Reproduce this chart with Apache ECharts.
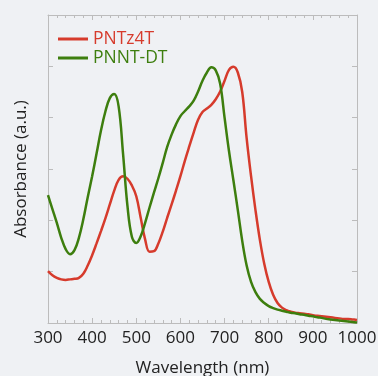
<!DOCTYPE html>
<html><head><meta charset="utf-8">
<script src="https://cdn.jsdelivr.net/npm/echarts@6/dist/echarts.min.js"></script>
<style>html,body{margin:0;padding:0;background:#eff1f4;}#c{width:378px;height:376px;}</style>
</head><body><div id="c"></div>
<script>
var seriesNames = ['PNTz4T', 'PNNT-DT'];
var xTicks = [300, 400, 500, 600, 700, 800, 900, 1000];
var wavelength = [300,310,320,330,340,350,360,370,380,390,400,410,420,430,440,450,460,470,480,490,500,510,520,530,540,550,560,570,580,590,600,610,620,630,640,650,660,670,680,690,700,710,720,730,740,750,760,770,780,790,800,810,820,830,840,850,860,870,880,890,900,910,920,930,940,950,960,970,980,990,1000];
var redY = [1.01,0.93,0.88,0.85,0.84,0.85,0.86,0.88,0.96,1.12,1.32,1.55,1.79,2.04,2.31,2.58,2.79,2.86,2.81,2.68,2.47,2.05,1.63,1.39,1.40,1.55,1.78,2.05,2.31,2.58,2.86,3.16,3.44,3.71,3.96,4.11,4.18,4.25,4.36,4.51,4.72,4.93,4.99,4.88,4.50,3.60,2.86,2.20,1.62,1.15,0.80,0.55,0.39,0.30,0.25,0.22,0.20,0.19,0.18,0.17,0.15,0.14,0.13,0.12,0.11,0.10,0.09,0.08,0.08,0.07,0.06];
var greenY = [2.49,2.22,1.95,1.66,1.44,1.34,1.42,1.66,2.02,2.45,2.86,3.30,3.75,4.12,4.38,4.46,4.22,3.30,2.28,1.68,1.56,1.69,1.95,2.25,2.54,2.82,3.12,3.43,3.67,3.87,4.03,4.13,4.22,4.33,4.51,4.72,4.88,4.98,4.92,4.66,4.00,3.35,2.78,2.20,1.60,1.12,0.80,0.60,0.47,0.39,0.33,0.29,0.26,0.24,0.22,0.20,0.19,0.17,0.16,0.14,0.13,0.11,0.10,0.08,0.07,0.06,0.05,0.04,0.03,0.02,0.01];
var colors = ['#d63b2c', '#3d7e0e'];

function pairs(xs, ys){ return xs.map(function(x,i){ return [x, ys[i]]; }); }

var chart = echarts.init(document.getElementById('c'));
var font = '"Open Sans", "Noto Sans", sans-serif';
var axisLineStyle = {color:'#bcbcbc', width:1};
chart.setOption({
  backgroundColor:'#eff1f4',
  animation:false,
  grid:{left:48, right:21, top:15, bottom:53, outerBoundsMode:'none', containLabel:false},
  legend:{
    left:53, top:25, orient:'vertical', itemGap:1,
    icon:'rect', itemWidth:30, itemHeight:3,
    data:[
      {name:seriesNames[0], textStyle:{color:colors[0]}},
      {name:seriesNames[1], textStyle:{color:colors[1]}}
    ],
    textStyle:{fontFamily:font, fontSize:17.5}
  },
  xAxis:[{
    type:'value', min:300, max:1000, interval:100,
    name:'Wavelength (nm)', nameLocation:'middle', nameGap:37,
    nameTextStyle:{fontFamily:font, fontSize:17, color:'#222'},
    axisLine:{show:true, onZero:false, lineStyle:axisLineStyle},
    axisTick:{show:true, inside:true, length:5, lineStyle:axisLineStyle},
    minorTick:{show:true, splitNumber:5, length:3, lineStyle:axisLineStyle},
    axisLabel:{fontFamily:font, fontSize:17, color:'#222', margin:7,
      formatter:function(v){ return xTicks.indexOf(v) >= 0 ? String(v) : ''; }},
    splitLine:{show:false}
  },{
    type:'value', min:300, max:1000, interval:100, position:'top',
    axisLine:{show:true, onZero:false, lineStyle:axisLineStyle},
    axisTick:{show:true, inside:true, length:5, lineStyle:axisLineStyle},
    minorTick:{show:true, splitNumber:5, length:3, lineStyle:axisLineStyle},
    axisLabel:{show:false}, splitLine:{show:false}
  }],
  yAxis:[{
    type:'value', min:0, max:6, interval:1,
    name:'Absorbance (a.u.)', nameLocation:'middle', nameGap:18,
    nameTextStyle:{fontFamily:font, fontSize:17, color:'#222'},
    axisLine:{show:true, onZero:false, lineStyle:axisLineStyle},
    axisTick:{show:true, inside:true, length:5, lineStyle:axisLineStyle},
    axisLabel:{show:false}, splitLine:{show:false}
  },{
    type:'value', min:0, max:6, interval:1, position:'right',
    axisLine:{show:true, onZero:false, lineStyle:axisLineStyle},
    axisTick:{show:true, inside:true, length:5, lineStyle:axisLineStyle},
    axisLabel:{show:false}, splitLine:{show:false}
  }],
  series:[
    {name:seriesNames[0], type:'line', data:pairs(wavelength, redY), smooth:0.4, showSymbol:false,
     lineStyle:{color:colors[0], width:2.5}, itemStyle:{color:colors[0]}, z:2},
    {name:seriesNames[1], type:'line', data:pairs(wavelength, greenY), smooth:0.4, showSymbol:false,
     lineStyle:{color:colors[1], width:2.5}, itemStyle:{color:colors[1]}, z:3}
  ]
});
</script>
</body></html>
